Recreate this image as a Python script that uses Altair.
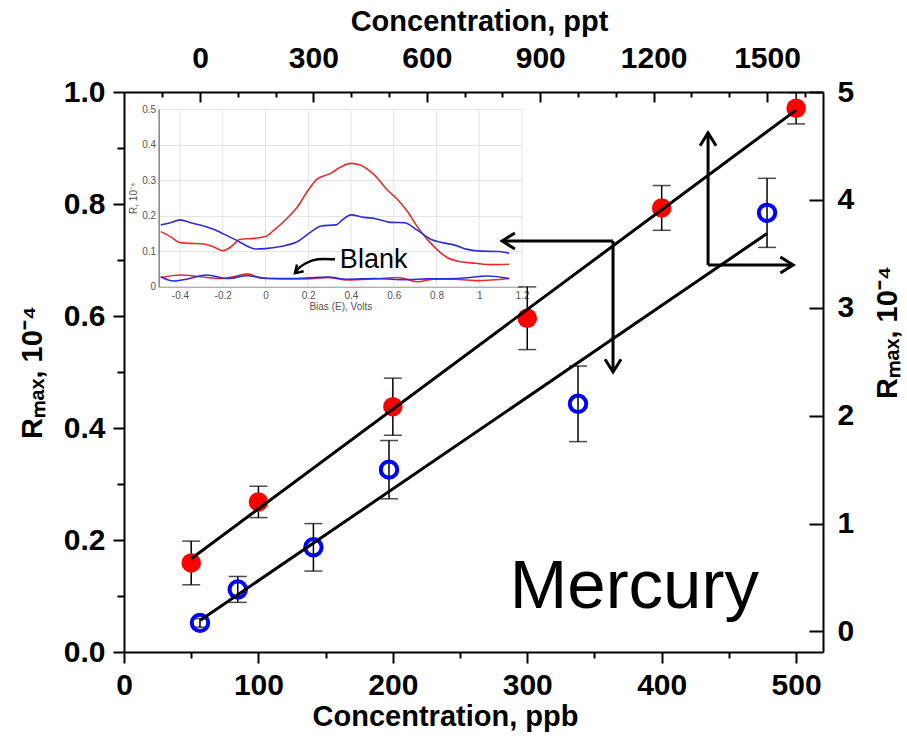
import altair as alt
import pandas as pd

FONT = "Liberation Sans"

# ---------------- main data (red: bottom/left axes, blue: top/right axes) ----------------
red_ppb = [50, 100, 200, 300, 400, 500]
red_rmax = [0.159, 0.268, 0.438, 0.596, 0.793, 0.971]
red_err = [0.039, 0.028, 0.051, 0.056, 0.040, 0.028]

blue_ppt = [0, 100, 300, 500, 1000, 1500]
blue_rmax = [0.08, 0.39, 0.78, 1.50, 2.11, 3.88]
blue_err = [0.04, 0.12, 0.22, 0.27, 0.35, 0.32]

# axis tick values
ppb_ticks = [0, 50, 100, 150, 200, 250, 300, 350, 400, 450, 500]
left_ticks = [0.0, 0.1, 0.2, 0.3, 0.4, 0.5, 0.6, 0.7, 0.8, 0.9, 1.0]
ppt_ticks = [-100, 0, 100, 200, 300, 400, 500, 600, 700, 800, 900, 1000,
             1100, 1200, 1300, 1400, 1500, 1600]
right_ticks = [0, 0.5, 1, 1.5, 2, 2.5, 3, 3.5, 4, 4.5, 5]

# ---------------- inset data ----------------
sig_red_bias = [-0.49, -0.445, -0.40, -0.35, -0.29, -0.24, -0.20, -0.16, -0.12, -0.055, 0.0,
                0.04, 0.10, 0.15, 0.195, 0.24, 0.305, 0.35, 0.40, 0.445, 0.51, 0.57, 0.62,
                0.665, 0.71, 0.76, 0.805, 0.85, 0.915, 0.98, 1.055, 1.14]
sig_red_r = [0.155, 0.141, 0.124, 0.122, 0.120, 0.111, 0.101, 0.113, 0.133, 0.136, 0.141,
             0.159, 0.192, 0.225, 0.267, 0.302, 0.319, 0.336, 0.347, 0.342, 0.314, 0.272, 0.244,
             0.211, 0.169, 0.131, 0.103, 0.082, 0.070, 0.066, 0.062, 0.063]
sig_blue_bias = [-0.49, -0.445, -0.40, -0.35, -0.29, -0.24, -0.195, -0.13, -0.085, -0.047, 0.0,
                 0.07, 0.15, 0.21, 0.26, 0.33, 0.36, 0.40, 0.46, 0.51, 0.585, 0.65, 0.71,
                 0.775, 0.82, 0.885, 0.945, 1.01, 1.09, 1.14]
sig_blue_r = [0.174, 0.180, 0.188, 0.180, 0.171, 0.161, 0.148, 0.129, 0.114, 0.106, 0.107,
              0.113, 0.127, 0.153, 0.171, 0.174, 0.188, 0.202, 0.195, 0.192, 0.181, 0.180, 0.159,
              0.133, 0.125, 0.117, 0.105, 0.100, 0.099, 0.094]
blank_red_bias = [-0.49, -0.40, -0.305, -0.21, -0.15, -0.085, -0.023, 0.07, 0.195, 0.29, 0.385,
                  0.51, 0.62, 0.71, 0.79, 0.885, 0.995, 1.14]
blank_red_r = [0.026, 0.033, 0.028, 0.023, 0.028, 0.036, 0.025, 0.022, 0.022, 0.026, 0.019,
               0.022, 0.026, 0.014, 0.021, 0.021, 0.017, 0.023]
blank_blue_bias = [-0.49, -0.43, -0.37, -0.275, -0.18, -0.085, 0.008, 0.133, 0.29, 0.385, 0.51,
                   0.635, 0.76, 0.90, 1.04, 1.14]
blank_blue_r = [0.028, 0.016, 0.021, 0.033, 0.023, 0.031, 0.023, 0.023, 0.027, 0.021, 0.023,
                0.020, 0.022, 0.023, 0.030, 0.023]
inset_x_ticks = [-0.4, -0.2, 0, 0.2, 0.4, 0.6, 0.8, 1, 1.2]
inset_y_ticks = [0, 0.1, 0.2, 0.3, 0.4, 0.5]
inset_y_range = [0, 0.5]

# ---------------- annotations ----------------
# arrows in (ppb, left R) coordinates: shaft start -> tip
arrow_x1 = [363.8, 363.8, 434.5, 434.5]
arrow_y1 = [0.734, 0.734, 0.691, 0.691]
arrow_x2 = [281.3, 363.8, 434.5, 497.8]
arrow_y2 = [0.734, 0.500, 0.927, 0.691]
arrow_dir = [180, 90, 270, 0]
mercury_x, mercury_y = 287, 0.079
# "Blank" label and curved arrow in inset coordinates
blank_x, blank_y = 0.348, 0.052
blank_arrow_bias = [0.325, 0.24, 0.185, 0.153, 0.138]
blank_arrow_r = [0.077, 0.080, 0.066, 0.052, 0.038]

# ---------------- frames ----------------
red_df = pd.DataFrame({"x": red_ppb, "y": red_rmax,
                       "lo": [v - e for v, e in zip(red_rmax, red_err)],
                       "hi": [v + e for v, e in zip(red_rmax, red_err)]})
red_caps = pd.DataFrame({"x": red_ppb + red_ppb, "y": list(red_df["lo"]) + list(red_df["hi"])})
blue_df = pd.DataFrame({"x": blue_ppt, "y": blue_rmax,
                        "lo": [v - e for v, e in zip(blue_rmax, blue_err)],
                        "hi": [v + e for v, e in zip(blue_rmax, blue_err)]})
blue_caps = pd.DataFrame({"x": blue_ppt + blue_ppt, "y": list(blue_df["lo"]) + list(blue_df["hi"])})
arrows_df = pd.DataFrame({"x": arrow_x1, "y": arrow_y1, "x2": arrow_x2, "y2": arrow_y2})
heads_df = pd.DataFrame({"x": arrow_x2, "y": arrow_y2, "ang": arrow_dir})
merc_df = pd.DataFrame({"x": [mercury_x], "y": [mercury_y], "t": ["Mercury"]})

inset_red = pd.DataFrame({"x": sig_red_bias + blank_red_bias, "y": sig_red_r + blank_red_r,
                          "s": ["sig"] * len(sig_red_bias) + ["blank"] * len(blank_red_bias)})
inset_blue = pd.DataFrame({"x": sig_blue_bias + blank_blue_bias, "y": sig_blue_r + blank_blue_r,
                           "s": ["sig"] * len(sig_blue_bias) + ["blank"] * len(blank_blue_bias)})
inset_grid = pd.DataFrame({"x": inset_x_ticks, "y": [inset_y_range[0]] * len(inset_x_ticks),
                           "y2": [inset_y_range[1]] * len(inset_x_ticks)})
blank_txt = pd.DataFrame({"x": [blank_x], "y": [blank_y], "t": ["Blank"]})
blank_arr = pd.DataFrame({"x": blank_arrow_bias, "y": blank_arrow_r,
                          "i": list(range(len(blank_arrow_bias)))})
blank_head = pd.DataFrame({"x": [blank_arrow_bias[-1]], "y": [blank_arrow_r[-1]], "ang": [135]})

CHEVRON = "M-1.6,-1L0,0L-1.6,1"

LBL = 30
TTL = 29
common_axis = dict(tickColor="black", tickWidth=2, domainColor="black", domainWidth=2,
                   labelFont=FONT, labelFontSize=LBL, labelFontWeight="bold", labelColor="black",
                   titleFont=FONT, titleFontSize=TTL, titleFontWeight="bold", titleColor="black",
                   grid=False, labelOverlap=False, labelFlush=False)

bottom_axis = alt.Axis(orient="bottom", values=ppb_ticks, format="d",
                       labelExpr="datum.value % 100 === 0 ? datum.label : ''",
                       tickSize={"condition": {"test": "datum.value % 100 === 0", "value": 11}, "value": 6},
                       labelPadding=7, title="Concentration, ppb", titlePadding=2, titleX=321,
                       **common_axis)
left_axis = alt.Axis(orient="left", values=left_ticks, format=".1f",
                     labelExpr="round(datum.value * 10) % 2 === 0 ? datum.label : ''",
                     tickSize={"condition": {"test": "round(datum.value * 10) % 2 === 0", "value": 11}, "value": 7},
                     labelPadding=8, title="Rₘₐₓ, 10⁻⁴", titleX=-77, titleY=280,
                     **common_axis)
top_axis = alt.Axis(orient="top", values=ppt_ticks, format="d",
                    labelExpr="datum.value % 300 === 0 && datum.value >= 0 ? datum.label : ''",
                    tickSize={"condition": {"test": "datum.value % 300 === 0", "value": -10}, "value": -5},
                    labelPadding=29, title="Concentration, ppt", titlePadding=2, titleX=355,
                    **common_axis)
right_axis = alt.Axis(orient="right", values=right_ticks, format="d",
                      labelExpr="datum.value % 1 === 0 ? datum.label : ''",
                      tickSize={"condition": {"test": "datum.value % 1 === 0", "value": -14}, "value": -12},
                      labelPadding=28, title="Rₘₐₓ, 10⁻⁴", titleAngle=270, titleBaseline="bottom",
                      titleX=79, titleY=240, **common_axis)

inset_common = dict(labelFont=FONT, labelFontSize=10, labelColor="#555555", titleFont=FONT,
                    titleFontSize=10, titleFontWeight="normal", titleColor="#555555",
                    ticks=False, gridColor="#e4e4e4", gridWidth=1,
                    domainWidth=1, labelOverlap=False, labelFlush=False)
inset_x_axis = alt.Axis(orient="bottom", values=inset_x_ticks, offset=-365.3, domainColor="#999999",
                        labelExpr="datum.value < 0 ? '-' + format(abs(datum.value), '~g') : format(datum.value, '~g')",
                        labelPadding=4, title="Bias (E), Volts", titlePadding=1, grid=False, **inset_common)
inset_y_axis = alt.Axis(orient="left", values=inset_y_ticks, offset=-34.6, domainColor="#444444",
                        labelExpr="format(datum.value, '~g')", grid=True,
                        labelPadding=3, title="R, 10⁻⁴", titlePadding=3, **inset_common)

# ---------------- encodings ----------------
def xb(field="x:Q"):
    return alt.X(field, scale=alt.Scale(domain=[0, 520], nice=False, zero=False), axis=bottom_axis)

def yl(field="y:Q"):
    return alt.Y(field, scale=alt.Scale(domain=[0, 1], nice=False, zero=False), axis=left_axis)

def xt(field="x:Q"):
    return alt.X(field, scale=alt.Scale(domain=[-201, 1648], nice=False, zero=False), axis=top_axis)

def yr(field="y:Q"):
    return alt.Y(field, scale=alt.Scale(domain=[-0.19, 5], nice=False, zero=False), axis=right_axis)

def xi(field="x:Q"):
    return alt.X(field, scale=alt.Scale(domain=[-0.5, 1.2], range=[34.6, 398], nice=False, zero=False),
                 axis=inset_x_axis)

def yi(field="y:Q"):
    return alt.Y(field, scale=alt.Scale(domain=inset_y_range, range=[194.7, 17], nice=False, zero=False),
                 axis=inset_y_axis)

# ---------------- red group ----------------
red_rule = alt.Chart(red_df).mark_rule(color="black", strokeWidth=1.5).encode(
    x=xb(), y=yl("lo:Q"), y2="hi:Q")
red_cap = alt.Chart(red_caps).mark_tick(orient="horizontal", size=18, thickness=1.5, color="black").encode(
    x=xb(), y=yl())
red_pts = alt.Chart(red_df).mark_point(shape="circle", filled=True, size=380, color="#ff0000",
                                       opacity=1).encode(x=xb(), y=yl())
red_fit = alt.Chart(red_df).transform_regression("x", "y").mark_line(
    color="black", strokeWidth=3).encode(x=xb(), y=yl())
shafts = alt.Chart(arrows_df).mark_rule(color="black", strokeWidth=3).encode(
    x=xb(), y=yl(), x2="x2:Q", y2="y2:Q")
heads = alt.Chart(heads_df).mark_point(shape=CHEVRON, filled=False, size=256, strokeWidth=3,
                                       color="black", opacity=1).encode(
    x=xb(), y=yl(), angle=alt.Angle("ang:Q", scale=None))
merc = alt.Chart(merc_df).mark_text(align="left", baseline="alphabetic", font=FONT, fontSize=69,
                                    color="black").encode(x=xb(), y=yl(), text="t:N")
red_grp = alt.layer(red_rule, red_cap, red_pts, red_fit, shafts, heads, merc)

# ---------------- blue group ----------------
blue_rule = alt.Chart(blue_df).mark_rule(color="black", strokeWidth=1.5).encode(
    x=xt(), y=yr("lo:Q"), y2="hi:Q")
blue_cap = alt.Chart(blue_caps).mark_tick(orient="horizontal", size=18, thickness=1.5, color="black").encode(
    x=xt(), y=yr())
blue_pts = alt.Chart(blue_df).mark_point(shape="circle", filled=False, size=270, strokeWidth=4,
                                         color="#0000ff", opacity=1).encode(x=xt(), y=yr())
blue_fit = alt.Chart(blue_df).transform_regression("x", "y").mark_line(
    color="black", strokeWidth=3).encode(x=xt(), y=yr())
blue_grp = alt.layer(blue_rule, blue_cap, blue_pts, blue_fit)

# ---------------- inset group ----------------
in_grid = alt.Chart(inset_grid).mark_rule(color="#e4e4e4", strokeWidth=1).encode(
    x=xi(), y=yi(), y2="y2:Q")
in_red = alt.Chart(inset_red).mark_line(color="#e0302c", strokeWidth=1.6, interpolate="monotone").encode(
    x=xi(), y=yi(), detail="s:N")
in_blue = alt.Chart(inset_blue).mark_line(color="#2c2cd8", strokeWidth=1.6, interpolate="monotone").encode(
    x=xi(), y=yi(), detail="s:N")
in_txt = alt.Chart(blank_txt).mark_text(align="left", baseline="alphabetic", font=FONT, fontSize=27,
                                        color="black").encode(x=xi(), y=yi(), text="t:N")
in_arr = alt.Chart(blank_arr).mark_line(color="black", strokeWidth=2.5, interpolate="basis").encode(
    x=xi(), y=yi(), order="i:Q")
in_head = alt.Chart(blank_head).mark_point(shape=CHEVRON, filled=False, size=90, strokeWidth=2.5,
                                           color="black", opacity=1).encode(
    x=xi(), y=yi(), angle=alt.Angle("ang:Q", scale=None))
inset = alt.layer(in_grid, in_red, in_blue, in_txt, in_arr, in_head)

chart = alt.layer(inset, blue_grp, red_grp).resolve_scale(
    x="independent", y="independent"
).properties(
    width=699, height=560,
    autosize=alt.AutoSizeParams(type="none"),
    padding={"left": 124, "top": 92, "right": 84, "bottom": 86},
).configure_view(stroke=None)

chart.save("out.html", embed_options={"renderer": "svg", "actions": False})
